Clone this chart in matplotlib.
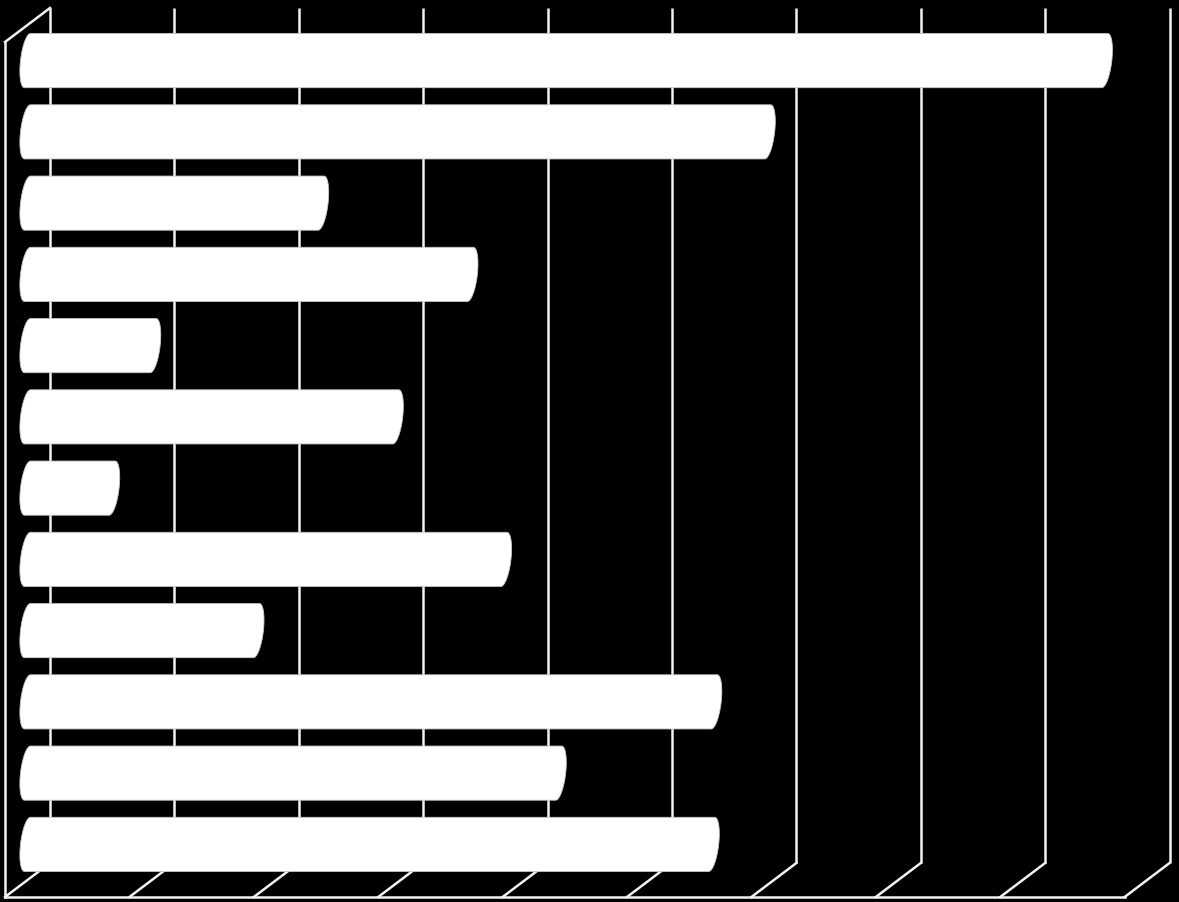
import numpy as np
import matplotlib
matplotlib.use("Agg")
import matplotlib.pyplot as plt
import matplotlib.transforms as mtransforms

# no labels are shown in the chart
categories = ['A', 'B', 'C', 'D', 'E', 'F', 'G', 'H', 'I', 'J', 'K', 'L']
values = [86.6, 59.5, 23.6, 35.6, 10.1, 29.6, 6.8, 38.3, 18.4, 55.2, 42.7, 55.0]
ticks = [0, 10, 20, 30, 40, 50, 60, 70, 80, 90]

W, H = 1179, 902
fig = plt.figure(figsize=(W / 100, H / 100), dpi=100, facecolor='black')

# axes = the middle depth plane of the 3d box
left_px, right_px = 27.5, 27.5 + 9 * 124.4
top_px, bot_px = 25, 880
ax = fig.add_axes([left_px / W, (H - bot_px) / H,
                   (right_px - left_px) / W, (bot_px - top_px) / H])
ax.set_facecolor('none')
ax.axis('off')
ax.set_xlim(ticks[0], ticks[-1])
n = len(categories)
ax.set_ylim(n - 0.5, -0.5)

# depth offsets (pixels) for back wall and front edge
dx, dy = 22.5, 17
back = ax.transData + mtransforms.ScaledTranslation(dx / 100, dy / 100, fig.dpi_scale_trans)
front = ax.transData + mtransforms.ScaledTranslation(-dx / 100, -dy / 100, fig.dpi_scale_trans)

lc = '#f2f2f2'
lw = 1.8
y_top, y_bot = -0.5, n - 0.5

# back wall gridlines
for t in ticks:
    ax.plot([t, t], [y_top, y_bot], color=lc, lw=lw, transform=back,
            clip_on=False, zorder=1, solid_capstyle='butt')


def depth_line(x, y):
    p0 = back.transform((x, y))
    p1 = front.transform((x, y))
    ax.plot([p0[0], p1[0]], [p0[1], p1[1]], color=lc, lw=lw,
            transform=mtransforms.IdentityTransform(), clip_on=False, zorder=1)


# floor diagonals
for t in ticks:
    depth_line(t, y_bot)
# left wall top edge
depth_line(ticks[0], y_top)
# front edges
ax.plot([ticks[0], ticks[-1]], [y_bot, y_bot], color=lc, lw=lw, transform=front,
        clip_on=False, zorder=1)
ax.plot([ticks[0], ticks[0]], [y_top, y_bot], color=lc, lw=lw, transform=front,
        clip_on=False, zorder=1)

# cylinder bars
p0 = ax.transData.transform((0, 0))
p1 = ax.transData.transform((1, 0))
px_x = p1[0] - p0[0]
a = 7.0 / px_x   # cap half width
s = 3.0 / px_x   # cap shear
h = 0.38
tr = np.linspace(0, np.pi, 40)
tl = np.linspace(np.pi, 2 * np.pi, 40)
for i, v in enumerate(values):
    xr = v + a * np.sin(tr) + s * np.cos(tr)
    yr = i - h * np.cos(tr)
    xl = 0 + a * np.sin(tl) + s * np.cos(tl)
    yl = i - h * np.cos(tl)
    xs = np.concatenate([xr, xl])
    ys = np.concatenate([yr, yl])
    ax.fill(xs, ys, facecolor='white', edgecolor='#c8c8c8', lw=0.6,
            clip_on=False, zorder=3)

fig.savefig('out.png', dpi=100, facecolor='black')
